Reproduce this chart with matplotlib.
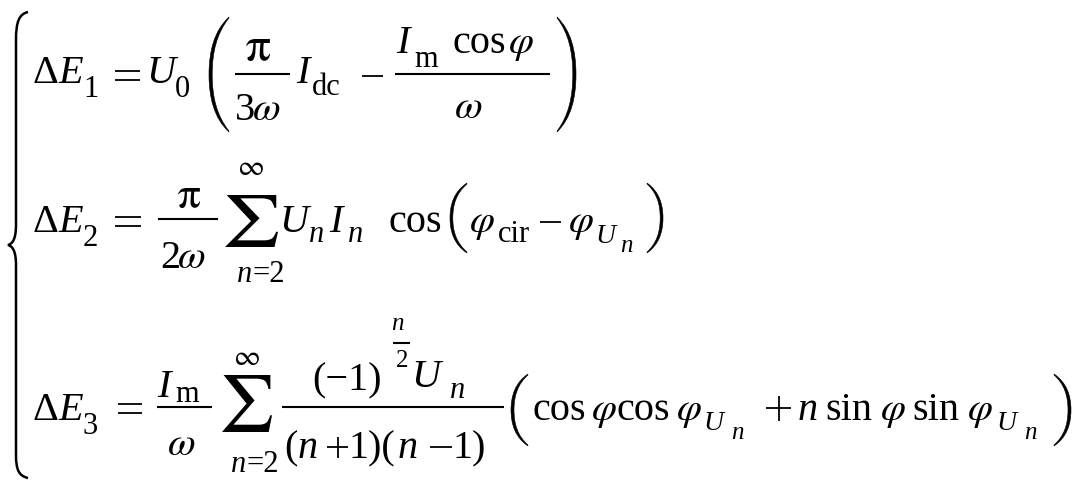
import matplotlib
matplotlib.use("Agg")
import matplotlib.pyplot as plt
from matplotlib.path import Path
from matplotlib.patches import PathPatch
from matplotlib.textpath import TextPath
from matplotlib.font_manager import FontProperties
from matplotlib.transforms import Affine2D

# Equation content (text only; this image holds no numeric data)
lhs_labels = ['1', '2', '3']
eq1_terms = ['π', '3', 'ω', 'dc', 'm', 'cos', 'φ']
eq2_terms = ['π', '2', 'ω', '∞', 'n=2', 'U', 'I', 'n', 'cos', 'φ', 'cir']
eq3_terms = ['m', 'ω', '(−1)', 'n', '2', 'U', '(n+1)(n−1)', 'cos', 'sin']

W, H = 1082, 490
fig = plt.figure(figsize=(W / 100, H / 100), dpi=100)
fig.patch.set_facecolor('white')
ax = fig.add_axes([0, 0, 1, 1])
ax.set_xlim(0, W)
ax.set_ylim(H, 0)
ax.axis('off')

SERIF = 'Liberation Serif'
STIX = 'STIXGeneral'
MAIN, SUB, SSUB = 29, 22, 18
OPW = 1.3


def t(x, y, s, size=MAIN, italic=False, fam=SERIF, ha='left'):
    ax.text(x, y, s, fontsize=size, family=fam,
            style='italic' if italic else 'normal',
            va='baseline', ha=ha, color='black')


def fit(ch, x0, x1, y0, y1, fam=STIX):
    tp = TextPath((0, 0), ch, size=100, prop=FontProperties(family=fam))
    bb = tp.get_extents()
    tr = (Affine2D().translate(-bb.x0, -bb.y0)
          .scale((x1 - x0) / bb.width, -(y1 - y0) / bb.height)
          .translate(x0, y1))
    ax.add_patch(PathPatch(tr.transform_path(tp), facecolor='black',
                           edgecolor='none', lw=0))


def paren(x0, x1, y0, y1, left=True, th=3.2):
    """Tall thin parenthesis drawn as a filled crescent."""
    h = y1 - y0
    ym = (y0 + y1) / 2
    w = x1 - x0
    if left:
        tip, edge, sgn = x1, x0, 1
    else:
        tip, edge, sgn = x0, x1, -1
    e = 1.0 * sgn
    verts = [
        (tip, y0),
        (tip - sgn * w * 0.75, y0 + h * 0.12), (edge, y0 + h * 0.3), (edge, ym),
        (edge, y1 - h * 0.3), (tip - sgn * w * 0.75, y1 - h * 0.12), (tip, y1),
        (tip - e * 0.2, y1 - 1.2),
        (tip - sgn * w * 0.6, y1 - h * 0.14), (edge + sgn * th, y1 - h * 0.3), (edge + sgn * th, ym),
        (edge + sgn * th, y0 + h * 0.3), (tip - sgn * w * 0.6, y0 + h * 0.14), (tip - e * 0.2, y0 + 1.2),
        (tip, y0),
    ]
    codes = ([Path.MOVETO] + [Path.CURVE4] * 6 + [Path.LINETO]
             + [Path.CURVE4] * 6 + [Path.CLOSEPOLY])
    ax.add_patch(PathPatch(Path(verts, codes), facecolor='black',
                           edgecolor='black', lw=0.4))


def bar(x0, x1, y, lw=1.5):
    ax.plot([x0, x1], [y, y], color='black', lw=lw, solid_capstyle='butt')


def equals(x0, x1, yc, gap=9):
    bar(x0, x1, yc - gap / 2, OPW)
    bar(x0, x1, yc + gap / 2, OPW)


def minus(x0, x1, yc):
    bar(x0, x1, yc, OPW)


def plus(x0, x1, yc):
    bar(x0, x1, yc, OPW)
    xc = (x0 + x1) / 2
    half = (x1 - x0) / 2
    ax.plot([xc, xc], [yc - half, yc + half], color='black', lw=OPW,
            solid_capstyle='butt')


def lhs(y, label):
    t(33, y, 'Δ')
    t(58, y, 'E', italic=True)
    t(83, y + 14, label, SUB)


# ---------- line 1 ----------
b1 = 83
lhs(b1, lhs_labels[0])
equals(115, 140, 76)
t(146, b1, 'U', italic=True)
t(175, b1 + 14, '0', SUB)
paren(209, 229, 17, 132, left=True)
fit('π', 246, 270, 39, 61)
bar(235, 290, 74)
t(235, 120, '3')
t(253, 120, 'ω', italic=True, fam=STIX)
t(296, b1, 'I', italic=True)
t(312, b1 + 12, 'dc', SUB)
minus(362, 383, 76)
bar(395, 550, 74)
t(396, 53, 'I', italic=True)
t(414, 67, 'm', SUB)
t(452, 53, 'cos')
t(509, 53, 'φ', italic=True, fam=STIX)
t(455, 118, 'ω', italic=True, fam=STIX)
paren(557, 576, 17, 132, left=False)

# ---------- line 2 ----------
b2 = 232
lhs(b2, lhs_labels[1])
equals(115, 141, 221)
fit('π', 178, 200, 188, 208)
bar(158, 218, 219)
t(160, 268, '2')
t(178, 268, 'ω', italic=True, fam=STIX)
fit('∑', 225, 278, 195, 247)
t(252, 175, '∞', 21, fam=STIX, ha='center')
t(252, 282, 'n', SUB, italic=True, ha='right')
t(252, 282, '=2', SUB, ha='left')
t(279, b2, 'U', italic=True)
t(309, b2 + 10, 'n', SUB, italic=True)
t(329, b2, 'I', italic=True)
t(348, b2 + 10, 'n', SUB, italic=True)
t(389, b2, 'cos')
paren(450, 467, 183, 253, left=True, th=2.8)
t(470, b2, 'φ', italic=True, fam=STIX)
t(498, b2 + 10, 'cir', SUB)
minus(540, 561, 222)
t(569, b2, 'φ', italic=True, fam=STIX)
t(595, b2 + 11, 'U', 20, italic=True)
t(620, b2 + 20, 'n', SSUB, italic=True)
paren(647, 663, 183, 253, left=False, th=2.8)

# ---------- line 3 ----------
b3 = 420
lhs(b3, lhs_labels[2])
equals(118, 142, 408)
t(157, 397, 'I', italic=True)
t(175, 402, 'm', SUB)
bar(157, 212, 407)
t(168, 455, 'ω', italic=True, fam=STIX)
fit('∑', 222, 272, 375, 432)
t(247, 365, '∞', 21, fam=STIX, ha='center')
t(246, 472, 'n', SUB, italic=True, ha='right')
t(246, 472, '=2', SUB, ha='left')
bar(282, 504, 407)
# numerator
t(312, 390, '(−1)')
t(391, 330, 'n', SSUB, italic=True)
bar(393, 410, 343)
t(396, 367, '2', SSUB)
t(411, 387, 'U', italic=True)
t(450, 398, 'n', SUB, italic=True)
# denominator
t(284, 458, '(')
t(298, 458, 'n', italic=True)
plus(327, 348, 447)
t(349, 458, '1)(')
t(398, 458, 'n', italic=True)
minus(430, 452, 447)
t(453, 458, '1)')
paren(511, 528, 374, 446, left=True, th=3.0)
t(532, b3, 'cos')
t(592, b3, 'φ', italic=True, fam=STIX)
t(616, b3, 'cos')
t(677, b3, 'φ', italic=True, fam=STIX)
t(703, b3 + 10, 'U', 20, italic=True)
t(731, b3 + 19, 'n', SSUB, italic=True)
plus(766, 791, 408)
t(798, b3, 'n', italic=True)
t(825, b3, 'sin')
t(881, b3, 'φ', italic=True, fam=STIX)
t(912, b3, 'sin')
t(968, b3, 'φ', italic=True, fam=STIX)
t(996, b3 + 10, 'U', 20, italic=True)
t(1024, b3 + 19, 'n', SSUB, italic=True)
paren(1054, 1071, 374, 446, left=False, th=3.0)

# ---------- left brace ----------
verts = [
    (28, 12), (19, 14), (16, 22), (16, 40),
    (16, 225),
    (16, 240), (12, 244), (8, 245),
    (12, 246), (16, 250), (16, 265),
    (16, 455),
    (16, 470), (19, 476), (28, 478),
]
codes = [Path.MOVETO, Path.CURVE4, Path.CURVE4, Path.CURVE4,
         Path.LINETO,
         Path.CURVE4, Path.CURVE4, Path.CURVE4,
         Path.CURVE4, Path.CURVE4, Path.CURVE4,
         Path.LINETO,
         Path.CURVE4, Path.CURVE4, Path.CURVE4]
ax.add_patch(PathPatch(Path(verts, codes), fill=False, lw=1.8, color='black'))

fig.savefig('out.png', dpi=100, facecolor='white')
